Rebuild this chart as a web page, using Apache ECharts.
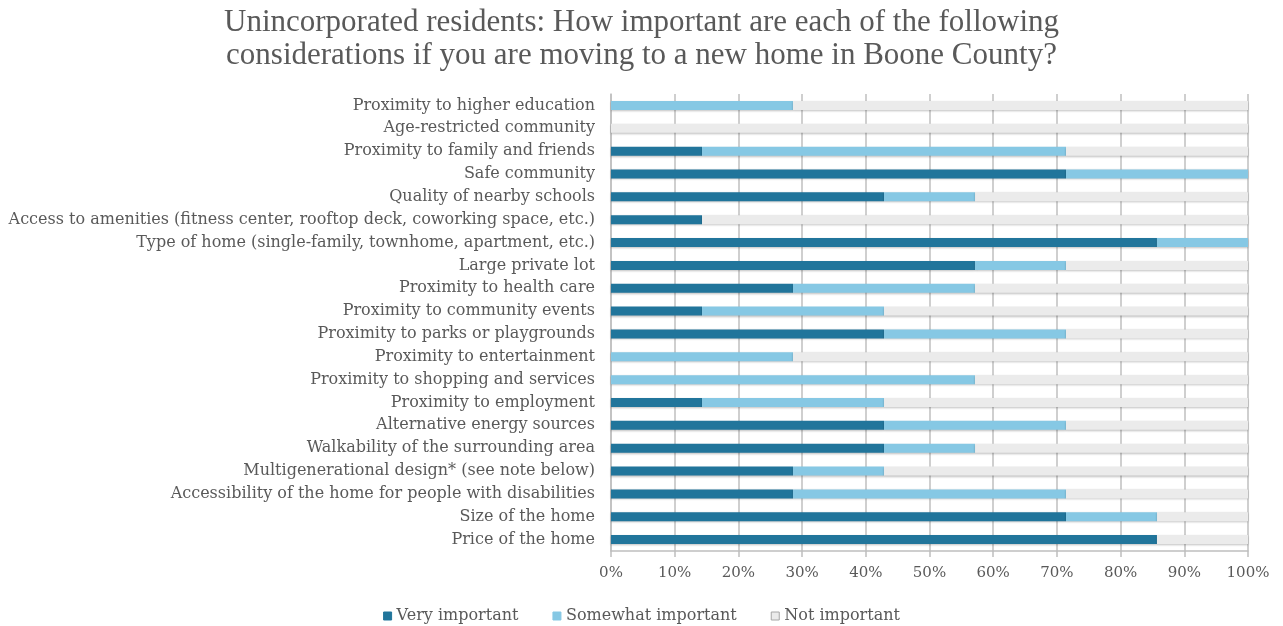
<!DOCTYPE html>
<html><head><meta charset="utf-8">
<script src="https://cdn.jsdelivr.net/npm/echarts@6/dist/echarts.min.js"></script>
<style>html,body{margin:0;padding:0;background:#fff}#c{width:1283px;height:626px}</style>
</head><body><div id="c"></div>
<script>
const categories = [
  "Proximity to higher education",
  "Age-restricted community",
  "Proximity to family and friends",
  "Safe community",
  "Quality of nearby schools",
  "Access to amenities (fitness center, rooftop deck, coworking space, etc.)",
  "Type of home (single-family, townhome, apartment, etc.)",
  "Large private lot",
  "Proximity to health care",
  "Proximity to community events",
  "Proximity to parks or playgrounds",
  "Proximity to entertainment",
  "Proximity to shopping and services",
  "Proximity to employment",
  "Alternative energy sources",
  "Walkability of the surrounding area",
  "Multigenerational design* (see note below)",
  "Accessibility of the home for people with disabilities",
  "Size of the home",
  "Price of the home"
];
const veryImportant =     [0, 0, 14.29, 71.43, 42.86, 14.29, 85.71, 57.14, 28.57, 14.29, 42.86, 0, 0, 14.29, 42.86, 42.86, 28.57, 28.57, 71.43, 85.71];
const somewhatImportant = [28.57, 0, 57.14, 28.57, 14.29, 0, 14.29, 14.29, 28.57, 28.57, 28.57, 28.57, 57.14, 28.57, 28.57, 14.29, 14.29, 42.86, 14.29, 0];
const notImportant =      [71.43, 100, 28.57, 0, 42.86, 85.71, 0, 28.57, 42.86, 57.14, 28.57, 71.43, 42.86, 57.14, 28.57, 42.86, 57.14, 28.57, 14.29, 14.29];
const seriesNames = ["Very important", "Somewhat important", "Not important"];
const titleLines = ["Unincorporated residents: How important are each of the following", "considerations if you are moving to a new home in Boone County?"];

const FONT = "DejaVu Serif";
const chart = echarts.init(document.getElementById('c'));
const colors = ['#21759b', '#86c8e4', '#ebebeb'];
const dataSets = [veryImportant, somewhatImportant, notImportant];
chart.setOption({
  animation: false,
  color: colors,
  title: {
    text: titleLines.join('\n'),
    left: 'center', top: 1,
    textStyle: {fontFamily: "Liberation Serif", fontSize: 31, fontWeight: 'normal', color: '#595959', lineHeight: 33}
  },
  legend: {
    top: 603, left: 'center',
    itemWidth: 8, itemHeight: 8, itemGap: 34, icon: 'rect',
    textStyle: {fontFamily: FONT, fontSize: 16, color: '#595959'},
    data: seriesNames.map((n,i)=>({name:n, itemStyle:{borderColor: i===2 ? '#a6a6a6' : colors[i], borderWidth: 1}}))
  },
  grid: {left: 611, right: 35, top: 94, height: 457, containLabel: false},
  xAxis: {
    type: 'value', min: 0, max: 100, interval: 10,
    axisLabel: {formatter: '{value}%', fontFamily: FONT, fontSize: 15, color: '#595959', margin: 15},
    axisLine: {show: true, lineStyle: {color: '#bfbfbf', width: 1.5}},
    axisTick: {show: true, length: 6, lineStyle: {color: '#bfbfbf', width: 1.5}},
    splitLine: {show: true, lineStyle: {color: '#bfbfbf', width: 1.5}}
  },
  yAxis: {
    type: 'category', data: categories, inverse: true,
    axisLabel: {fontFamily: FONT, fontSize: 16, color: '#595959', margin: 16},
    axisLine: {show: true, lineStyle: {color: '#bfbfbf', width: 1.5}},
    axisTick: {show: false}
  },
  series: seriesNames.map((n, i) => ({
    name: n, type: 'bar', stack: 'total', barWidth: 9,
    data: dataSets[i],
    itemStyle: {color: colors[i], shadowColor: 'rgba(0,0,0,0.25)', shadowBlur: 2, shadowOffsetY: 1}
  }))
});
</script></body></html>
